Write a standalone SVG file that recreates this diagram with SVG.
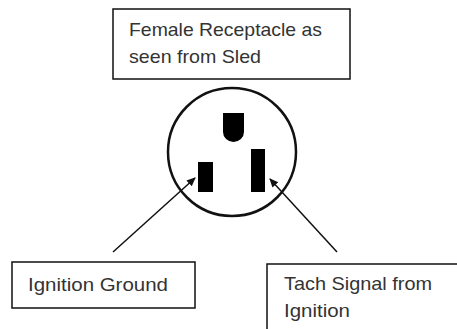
<svg xmlns="http://www.w3.org/2000/svg" width="457" height="329" viewBox="0 0 457 329">
<style>
.box{fill:#fff;stroke:#111;stroke-width:1.5}
.t{font-family:"Liberation Sans",Arial,sans-serif;font-size:18.5px;fill:#333}
.ln{stroke:#111;stroke-width:1.5;fill:none}
</style>
<defs>
<marker id="ah" markerWidth="10" markerHeight="10" refX="8" refY="5" orient="auto" markerUnits="userSpaceOnUse">
<path d="M0,1 L9,5 L0,9 z" fill="#111"/>
</marker>
</defs>
<rect width="457" height="329" fill="#fff"/>
<g id="title">
<rect class="box" x="113" y="9" width="237" height="70"/>
<text class="t" x="129" y="36" textLength="193" lengthAdjust="spacingAndGlyphs">Female Receptacle as</text>
<text class="t" x="129" y="63" textLength="132" lengthAdjust="spacingAndGlyphs">seen from Sled</text>
</g>
<g id="receptacle">
<circle cx="232" cy="152" r="64" fill="none" stroke="#111" stroke-width="2.5"/>
<path d="M223,113 H244 V132 A10.5,10 0 0 1 223,132 Z" fill="#000"/>
<rect x="198" y="162" width="15" height="30" fill="#000"/>
<rect x="251" y="149" width="14" height="43" fill="#000"/>
</g>
<g id="ground">
<rect class="box" x="12" y="262" width="183" height="46"/>
<text class="t" x="28" y="291" textLength="140" lengthAdjust="spacingAndGlyphs">Ignition Ground</text>
</g>
<g id="tach">
<rect class="box" x="267" y="264" width="200" height="80"/>
<text class="t" x="284" y="290" textLength="148" lengthAdjust="spacingAndGlyphs">Tach Signal from</text>
<text class="t" x="284" y="317" textLength="66" lengthAdjust="spacingAndGlyphs">Ignition</text>
</g>
<g id="connectors">
<line class="ln" x1="113" y1="252" x2="195" y2="178" marker-end="url(#ah)"/>
<line class="ln" x1="337" y1="252" x2="270" y2="179" marker-end="url(#ah)"/>
</g>
</svg>
